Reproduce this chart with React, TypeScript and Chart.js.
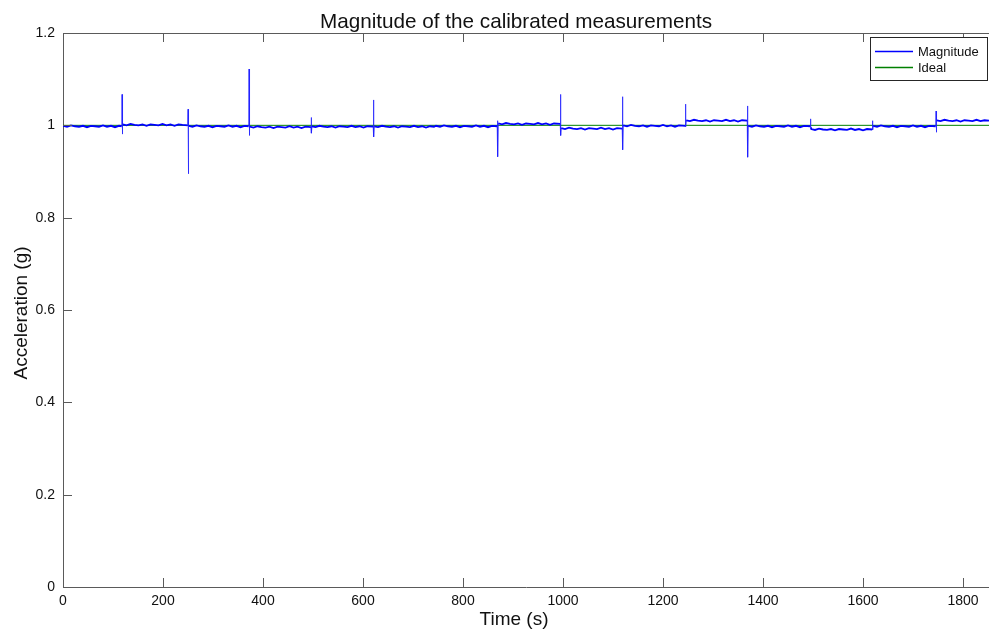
import React, { useEffect, useRef } from "react";
import { Chart, registerables } from "chart.js";

Chart.register(...registerables);

const chartTitle = "Magnitude of the calibrated measurements";
const xAxisLabel = "Time (s)";
const yAxisLabel = "Acceleration (g)";
const seriesNames = ["Magnitude", "Ideal"];

const xTicks = [0, 200, 400, 600, 800, 1000, 1200, 1400, 1600, 1800];
const yTicks = [0, 0.2, 0.4, 0.6, 0.8, 1, 1.2];
const yTickLabels = ["0", "0.2", "0.4", "0.6", "0.8", "1", "1.2"];
const xMax = 1852;

// Magnitude samples: [time (s), magnitude (g)]
const magnitudeSamples: [number, number][] = [
  [0, 0.999], [8, 0.997], [16, 1.0], [24, 0.998], [32, 0.997], [40, 0.999], [48, 0.996], [56, 0.999],
  [64, 0.998], [72, 0.997], [80, 1.0], [88, 0.997], [96, 0.999], [104, 0.996], [112, 0.999], [117.5, 0.998],
  [118, 1.067], [118.6, 0.981],
  [119.5, 1.002], [127, 1.0], [135, 1.003], [143, 1.001], [151, 1.0], [159, 1.002], [167, 0.999], [175, 1.002],
  [183, 1.001], [191, 1.0], [199, 1.003], [207, 1.0], [215, 1.002], [223, 0.999], [231, 1.002], [239, 1.001], [249.4, 1.0],
  [250, 1.035], [250.6, 0.895],
  [251.5, 0.999], [259, 0.997], [267, 1.0], [275, 0.998], [283, 0.997], [291, 0.999], [299, 0.996], [307, 0.999],
  [315, 0.998], [323, 0.997], [331, 1.0], [339, 0.997], [347, 0.999], [355, 0.996], [363, 0.999], [371.4, 0.998],
  [372, 1.122], [372.6, 0.978],
  [373.5, 0.997], [381, 0.995], [389, 0.998], [397, 0.996], [405, 0.995], [413, 0.997], [421, 0.994], [429, 0.997],
  [437, 0.996], [445, 0.995], [453, 0.998], [461, 0.995], [469, 0.997], [477, 0.994], [485, 0.997], [496, 0.996],
  [496.5, 1.017], [497, 0.983],
  [498, 0.998], [505, 0.996], [513, 0.999], [521, 0.997], [529, 0.996], [537, 0.998], [545, 0.995], [553, 0.998],
  [561, 0.997], [569, 0.996], [577, 0.999], [585, 0.996], [593, 0.998], [601, 0.995], [609, 0.998], [620.4, 0.997],
  [621, 1.055], [621.6, 0.975],
  [622.5, 0.998], [630, 0.996], [638, 0.999], [646, 0.997], [654, 0.996], [662, 0.998], [670, 0.995], [678, 0.998],
  [686, 0.997], [694, 0.996], [702, 0.999], [710, 0.996], [718, 0.998], [726, 0.995], [734, 0.998], [742, 0.997],
  [746, 0.999], [754, 0.997], [762, 1.0], [770, 0.998], [778, 0.997], [786, 0.999], [794, 0.996], [802, 0.999],
  [810, 0.998], [818, 0.997], [826, 1.0], [834, 0.997], [842, 0.999], [850, 0.996], [858, 0.999], [868.4, 0.998],
  [869, 1.01], [869.6, 0.932],
  [870.5, 1.004], [878, 1.002], [886, 1.005], [894, 1.003], [902, 1.002], [910, 1.004], [918, 1.001], [926, 1.004],
  [934, 1.003], [942, 1.002], [950, 1.005], [958, 1.002], [966, 1.004], [974, 1.001], [982, 1.004], [994.4, 1.003],
  [995, 1.067], [995.6, 0.978],
  [996.5, 0.994], [1004, 0.992], [1012, 0.995], [1020, 0.993], [1028, 0.992], [1036, 0.994], [1044, 0.991], [1052, 0.994],
  [1060, 0.993], [1068, 0.992], [1076, 0.995], [1084, 0.992], [1092, 0.994], [1100, 0.991], [1108, 0.994], [1118.4, 0.993],
  [1119, 1.062], [1119.6, 0.947],
  [1120.5, 1.0], [1128, 0.998], [1136, 1.001], [1144, 0.999], [1152, 0.998], [1160, 1.0], [1168, 0.997], [1176, 1.0],
  [1184, 0.999], [1192, 0.998], [1200, 1.001], [1208, 0.998], [1216, 1.0], [1224, 0.997], [1232, 1.0], [1244.4, 0.999],
  [1245, 1.046], [1245.6, 0.997],
  [1246.5, 1.011], [1254, 1.009], [1262, 1.012], [1270, 1.01], [1278, 1.009], [1286, 1.011], [1294, 1.008], [1302, 1.011],
  [1310, 1.01], [1318, 1.009], [1326, 1.012], [1334, 1.009], [1342, 1.011], [1350, 1.008], [1358, 1.011], [1368.4, 1.01],
  [1369, 1.042], [1369.6, 0.931],
  [1370.5, 0.999], [1378, 0.997], [1386, 1.0], [1394, 0.998], [1402, 0.997], [1410, 0.999], [1418, 0.996], [1426, 0.999],
  [1434, 0.998], [1442, 0.997], [1450, 1.0], [1458, 0.997], [1466, 0.999], [1474, 0.996], [1482, 0.999], [1494.4, 0.998],
  [1495, 1.014], [1495.6, 0.996],
  [1496.5, 0.992], [1504, 0.99], [1512, 0.993], [1520, 0.991], [1528, 0.99], [1536, 0.992], [1544, 0.989], [1552, 0.992],
  [1560, 0.991], [1568, 0.99], [1576, 0.993], [1584, 0.99], [1592, 0.992], [1600, 0.989], [1608, 0.992], [1618.4, 0.991],
  [1619, 1.01], [1619.6, 0.99],
  [1620.5, 0.999], [1628, 0.997], [1636, 1.0], [1644, 0.998], [1652, 0.997], [1660, 0.999], [1668, 0.996], [1676, 0.999],
  [1684, 0.998], [1692, 0.997], [1700, 1.0], [1708, 0.997], [1716, 0.999], [1724, 0.996], [1732, 0.999], [1745.4, 0.998],
  [1746, 1.031], [1746.6, 0.985],
  [1747.5, 1.011], [1755, 1.009], [1763, 1.012], [1771, 1.01], [1779, 1.009], [1787, 1.011], [1795, 1.008], [1803, 1.011],
  [1811, 1.01], [1819, 1.009], [1827, 1.012], [1835, 1.009], [1843, 1.011], [1852, 1.01],
];

const idealTime = [0, 1852];
const idealValue = [1, 1];

const FONT = '"Liberation Sans", Arial, Helvetica, sans-serif';
const AXIS_COLOR = "#5a5a5a";
const TEXT_COLOR = "#111111";
const MAG_COLOR = "#0000ff";
const IDEAL_COLOR = "#008000";

const decorPlugin = {
  id: "matlabDecor",
  afterDraw(chart: any) {
    const { ctx, chartArea } = chart;
    const xs = chart.scales.x;
    const ys = chart.scales.y;
    const { left, right, top, bottom } = chartArea;
    ctx.save();
    ctx.strokeStyle = AXIS_COLOR;
    ctx.lineWidth = 1;
    ctx.beginPath();
    ctx.moveTo(left, Math.round(top) + 0.5);
    ctx.lineTo(right, Math.round(top) + 0.5);
    ctx.stroke();
    const tl = 9;
    ctx.beginPath();
    for (const v of xTicks) {
      const px = Math.round(xs.getPixelForValue(v)) + 0.5;
      ctx.moveTo(px, bottom);
      ctx.lineTo(px, bottom - tl);
      ctx.moveTo(px, top);
      ctx.lineTo(px, top + tl);
    }
    for (const v of yTicks) {
      const py = Math.round(ys.getPixelForValue(v)) + 0.5;
      ctx.moveTo(left, py);
      ctx.lineTo(left + tl, py);
    }
    ctx.stroke();

    // title
    ctx.fillStyle = TEXT_COLOR;
    ctx.font = `20.7px ${FONT}`;
    ctx.textAlign = "center";
    ctx.textBaseline = "alphabetic";
    ctx.fillText(chartTitle, 516, 28);

    // x axis label
    ctx.font = `19px ${FONT}`;
    ctx.fillText(xAxisLabel, 514, 625);

    // y axis label
    ctx.save();
    ctx.translate(27, 313);
    ctx.rotate(-Math.PI / 2);
    ctx.fillText(yAxisLabel, 0, 0);
    ctx.restore();

    // legend
    const lx = 870.5, ly = 37.5, lw = 117, lh = 43;
    ctx.fillStyle = "#ffffff";
    ctx.fillRect(lx, ly, lw, lh);
    ctx.strokeStyle = "#262626";
    ctx.lineWidth = 1;
    ctx.strokeRect(lx, ly, lw, lh);
    const rows = [
      { name: seriesNames[0], color: MAG_COLOR, y: 51 },
      { name: seriesNames[1], color: IDEAL_COLOR, y: 67 },
    ];
    ctx.font = `13px ${FONT}`;
    ctx.textAlign = "left";
    ctx.textBaseline = "middle";
    for (const r of rows) {
      ctx.strokeStyle = r.color;
      ctx.lineWidth = 1.3;
      ctx.beginPath();
      ctx.moveTo(875, r.y + 0.5);
      ctx.lineTo(913, r.y + 0.5);
      ctx.stroke();
      ctx.fillStyle = TEXT_COLOR;
      ctx.fillText(r.name, 918, r.y + 1);
    }
    ctx.restore();
  },
};

export default function App() {
  const canvasRef = useRef<HTMLCanvasElement | null>(null);

  useEffect(() => {
    const canvas = canvasRef.current;
    if (!canvas) return;
    const steep = (c: any) => Math.abs(c.p1.parsed.y - c.p0.parsed.y) > 0.005;
    const chart = new Chart(canvas, {
      type: "line",
      data: {
        datasets: [
          {
            label: seriesNames[0],
            data: magnitudeSamples.map(([t, v]) => ({ x: t, y: v })),
            borderColor: MAG_COLOR,
            borderWidth: 1.8,
            pointRadius: 0,
            tension: 0,
            segment: {
              borderWidth: (c: any) => (steep(c) ? 1 : 1.8),
              borderColor: (c: any) => (steep(c) ? "rgba(30,30,255,0.75)" : MAG_COLOR),
            },
          },
          {
            label: seriesNames[1],
            data: idealTime.map((t, i) => ({ x: t, y: idealValue[i] })),
            borderColor: IDEAL_COLOR,
            borderWidth: 1,
            pointRadius: 0,
            tension: 0,
          },
        ],
      },
      options: {
        animation: false,
        responsive: false,
        maintainAspectRatio: false,
        devicePixelRatio: 1,
        layout: { padding: { top: 33, left: 0, right: 0, bottom: 0 } },
        plugins: {
          legend: { display: false },
          title: { display: false },
          tooltip: { enabled: false },
        },
        scales: {
          x: {
            type: "linear",
            min: 0,
            max: xMax,
            afterBuildTicks: (s: any) => {
              s.ticks = xTicks.map((v) => ({ value: v }));
            },
            afterFit: (s: any) => {
              s.height = 43;
            },
            ticks: {
              autoSkip: false,
              maxRotation: 0,
              minRotation: 0,
              padding: 6,
              color: TEXT_COLOR,
              font: { family: FONT, size: 14 },
              callback: (v: any) => String(v),
            },
            grid: { display: false, drawTicks: false },
            border: { display: true, color: AXIS_COLOR, width: 1 },
          },
          y: {
            type: "linear",
            min: 0,
            max: 1.2,
            afterBuildTicks: (s: any) => {
              s.ticks = yTicks.map((v) => ({ value: v }));
            },
            afterFit: (s: any) => {
              s.width = 63;
            },
            ticks: {
              padding: 8,
              color: TEXT_COLOR,
              font: { family: FONT, size: 14 },
              callback: (v: any) => {
                const i = yTicks.findIndex((t) => Math.abs(t - v) < 1e-9);
                return i >= 0 ? yTickLabels[i] : "";
              },
            },
            grid: { display: false, drawTicks: false },
            border: { display: true, color: AXIS_COLOR, width: 1 },
          },
        },
      },
      plugins: [decorPlugin],
    });
    return () => chart.destroy();
  }, []);

  return (
    <div style={{ position: "fixed", left: 0, top: 0, width: 989, height: 630, background: "#fff" }}>
      <canvas ref={canvasRef} width={989} height={630} style={{ display: "block", width: 989, height: 630 }} />
    </div>
  );
}
